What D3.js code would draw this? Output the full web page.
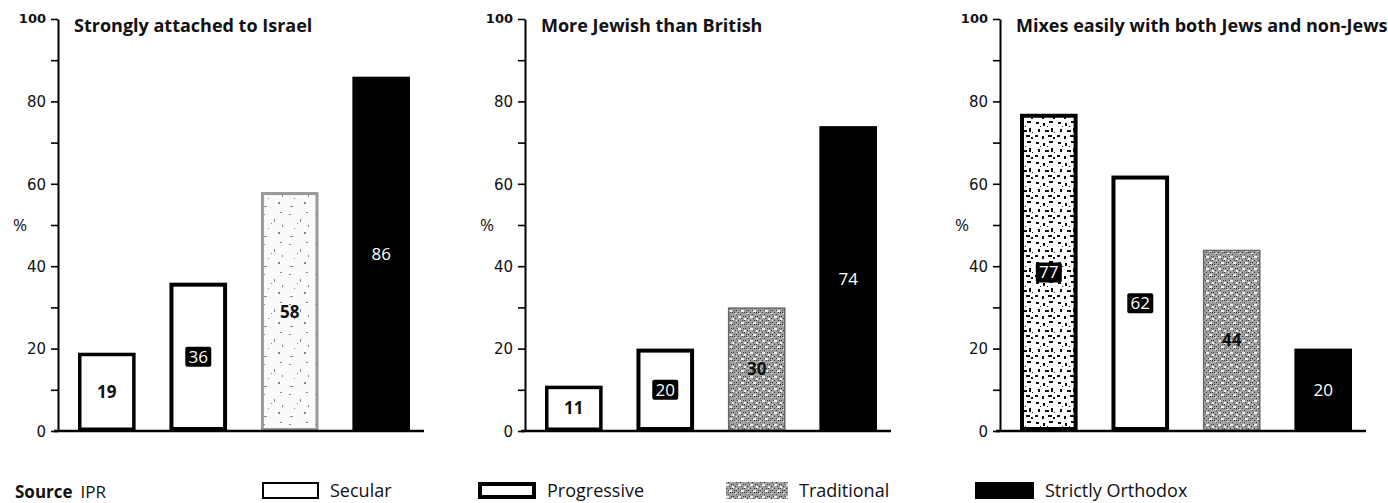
<!DOCTYPE html>
<html>
<head>
<meta charset="utf-8">
<script src="https://cdn.jsdelivr.net/npm/d3@7"></script>
<style>
  html, body { margin: 0; padding: 0; background: #fff; }
  svg { display: block; font-family: "Open Sans", "Noto Sans", sans-serif; }
</style>
</head>
<body>
<svg id="chart" width="1388" height="503"></svg>
<script>
// Religious groups, in the order they appear along each panel
const categories = ["Secular", "Progressive", "Traditional", "Strictly Orthodox"];

// Panel titles
const panelTitles = [
  "Strongly attached to Israel",
  "More Jewish than British",
  "Mixes easily with both Jews and non-Jews"
];

// Percentages per group, one array per panel
const attachedToIsrael = [19, 36, 58, 86];
const moreJewishThanBritish = [11, 20, 30, 74];
const mixesEasily = [77, 62, 44, 20];

// Y-axis ticks
const yTickValues = [0, 10, 20, 30, 40, 50, 60, 70, 80, 90, 100];
const yTickLabels = [0, 20, 40, 60, 80, 100];

const panelValues = [attachedToIsrael, moreJewishThanBritish, mixesEasily];

const svg = d3.select("#chart");

// ---- fill patterns ----
const defs = svg.append("defs");

// mottled grey screen used for "Traditional"
const trad = defs.append("pattern").attr("id", "pat-trad")
  .attr("patternUnits", "userSpaceOnUse").attr("width", 12).attr("height", 12);
trad.append("rect").attr("width", 12).attr("height", 12).attr("fill", "#a0a0a0");
[[0,0],[2,0],[4,2],[6,0],[8,2],[10,0],[1,4],[3,6],[5,4],[9,6],[11,4],[0,8],[2,10],[6,8],[8,10],[10,8],[4,10]]
  .forEach(([x, y]) => trad.append("rect").attr("x", x).attr("y", y).attr("width", 1).attr("height", 1).attr("fill", "#3a3a3a"));
[[6,4,3,2],[0,6,2,2],[3,1,2,1],[9,10,3,2],[4,8,1,1]]
  .forEach(([x, y, w, h]) => trad.append("rect").attr("x", x).attr("y", y).attr("width", w).attr("height", h).attr("fill", "#eee"));

// light speckle (first panel's Traditional bar)
const light = defs.append("pattern").attr("id", "pat-light")
  .attr("patternUnits", "userSpaceOnUse").attr("width", 26).attr("height", 30);
light.append("rect").attr("width", 26).attr("height", 30).attr("fill", "#fafafa");
[[3,4,2,1],[14,9,1,3],[20,2,2,1],[8,18,1,1],[18,22,2,2],[4,26,3,1],[11,13,1,1],[22,15,1,2]]
  .forEach(([x, y, w, h]) => light.append("rect").attr("x", x).attr("y", y).attr("width", w).attr("height", h).attr("fill", "#888"));

// dark speckle (third panel's Secular bar)
const speck = defs.append("pattern").attr("id", "pat-speck")
  .attr("patternUnits", "userSpaceOnUse").attr("width", 22).attr("height", 20);
speck.append("rect").attr("width", 22).attr("height", 20).attr("fill", "#fff");
[[2,2,3,2],[9,3,2,3],[15,1,4,2],[4,9,2,3],[11,10,4,2],[17,8,2,4],[1,15,3,2],[8,16,2,3],[14,15,4,2],[19,17,2,2],[6,6,1,1],[13,6,1,1],[20,12,1,1]]
  .forEach(([x, y, w, h]) => speck.append("rect").attr("x", x).attr("y", y).attr("width", w).attr("height", h).attr("fill", "#111"));

// per-group styling
const seriesStyle = {
  "Secular":           { fill: "#fff", stroke: "#000", sw: 3.5, label: "dark" },
  "Progressive":       { fill: "#fff", stroke: "#000", sw: 4,   label: "boxed" },
  "Traditional":       { fill: "url(#pat-trad)", stroke: "#666", sw: 1.5, label: "dark" },
  "Strictly Orthodox": { fill: "#000", stroke: "#000", sw: 0,   label: "light" }
};
// a few bars printed with a different screen
const overrides = {
  "0-Traditional": { fill: "url(#pat-light)", stroke: "#999", sw: 3, label: "dark" },
  "2-Secular":     { fill: "url(#pat-speck)", stroke: "#000", sw: 4, label: "boxed" }
};

const y = d3.scaleLinear().domain([0, 100]).range([431, 19]);
const axisXs = [58, 525, 1000];

panelValues.forEach((vals, pi) => {
  const ax = axisXs[pi];
  const g = svg.append("g");

  const x = d3.scaleBand().domain(categories)
    .range([ax + 20, ax + 352]).paddingInner(0.37).paddingOuter(0);

  // y axis
  const axis = d3.axisLeft(y).tickValues(yTickValues).tickSize(7).tickSizeOuter(0)
    .tickPadding(5)
    .tickFormat(d => yTickLabels.includes(d) ? d : "");
  const ag = g.append("g").attr("transform", `translate(${ax},0)`).call(axis);
  ag.attr("font-size", null).attr("font-family", null);
  ag.select(".domain").attr("stroke", "#000").attr("stroke-width", 2);
  ag.selectAll(".tick line").attr("stroke", "#000").attr("stroke-width", 1.6);
  ag.selectAll(".tick text")
    .attr("fill", "#111")
    .attr("font-family", "'DejaVu Sans', sans-serif")
    .attr("font-size", d => d === 100 ? 13 : 15)
    .attr("font-weight", d => d === 100 ? 700 : 400)
    .attr("dy", d => d === 100 ? "0.3em" : "0.35em");

  // % unit
  g.append("text").attr("x", ax - 38).attr("y", y(50) + 6)
    .attr("text-anchor", "middle").attr("font-size", 17).attr("fill", "#111").text("%");

  // title
  g.append("text").attr("x", ax + 16).attr("y", 32)
    .attr("font-size", 18).attr("font-weight", 700).attr("fill", "#111")
    .text(panelTitles[pi]);

  // bars
  categories.forEach((c, i) => {
    const v = vals[i];
    const s = overrides[`${pi}-${c}`] || seriesStyle[c];
    const x0 = x(c), w = x.bandwidth();
    const h = y(0) - y(v);
    const inset = s.sw / 2;
    g.append("rect")
      .attr("x", x0 + inset).attr("y", y(v) + inset)
      .attr("width", w - s.sw).attr("height", h - s.sw)
      .attr("fill", s.fill)
      .attr("stroke", s.sw ? s.stroke : "none")
      .attr("stroke-width", s.sw);

    const cx = x0 + w / 2, cy = y(v / 2);
    const txt = String(v);
    if (s.label === "boxed") {
      const bw = 10 * txt.length + 6;
      g.append("rect").attr("x", cx - bw / 2).attr("y", cy - 10)
        .attr("width", bw).attr("height", 20).attr("rx", 2).attr("fill", "#000");
    }
    g.append("text").attr("x", cx).attr("y", cy + 6)
      .attr("text-anchor", "middle")
      .attr("font-size", 17)
      .attr("font-weight", s.label === "dark" ? 700 : 400)
      .attr("fill", s.label === "dark" ? "#111" : "#fff")
      .text(txt);
  });

  // baseline
  g.append("line").attr("x1", ax - 4).attr("x2", ax + 366)
    .attr("y1", y(0)).attr("y2", y(0))
    .attr("stroke", "#000").attr("stroke-width", 2.5);
});

// ---- legend ----
const legendItems = [
  { name: "Secular",           bx: 262, bw: 57, fill: "#fff",           stroke: "#000", sw: 2 },
  { name: "Progressive",       bx: 478, bw: 58, fill: "#fff",           stroke: "#000", sw: 4 },
  { name: "Traditional",       bx: 726, bw: 62, fill: "url(#pat-trad)", stroke: "none", sw: 0 },
  { name: "Strictly Orthodox", bx: 975, bw: 59, fill: "#000",           stroke: "none", sw: 0 }
];
const lg = svg.append("g");
legendItems.forEach(it => {
  lg.append("rect")
    .attr("x", it.bx + it.sw / 2).attr("y", 482 + it.sw / 2)
    .attr("width", it.bw - it.sw).attr("height", 17 - it.sw)
    .attr("fill", it.fill).attr("stroke", it.stroke).attr("stroke-width", it.sw);
  lg.append("text").attr("x", it.bx + it.bw + 11).attr("y", 497)
    .attr("font-size", 18).attr("fill", "#111").text(it.name);
});

// source note
const src = svg.append("text").attr("x", 15).attr("y", 498).attr("font-size", 17).attr("fill", "#111");
src.append("tspan").attr("font-weight", 700).text("Source");
src.append("tspan").attr("dx", 8).text("IPR");
</script>
</body>
</html>
